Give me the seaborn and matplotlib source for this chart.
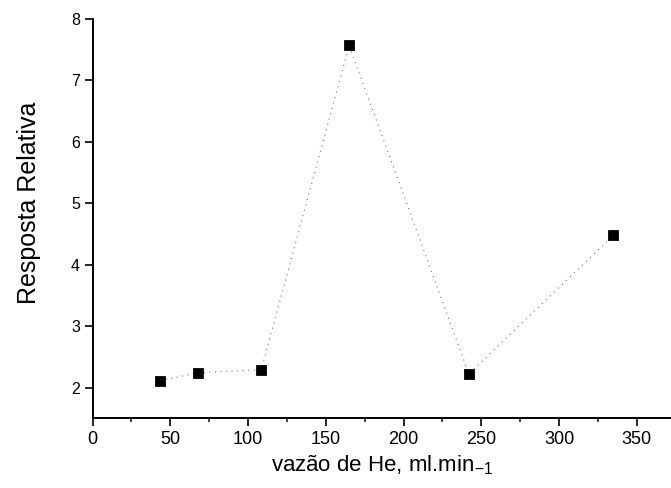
import matplotlib
matplotlib.use("Agg")
import matplotlib.pyplot as plt
import seaborn as sns
import pandas as pd
from matplotlib.ticker import MultipleLocator

# ─── Data ─────────────────────────────────────────────────────────────────────
vazao    = [43.5, 67.5, 108.5, 165, 242, 335]
resposta = [2.11, 2.24, 2.29, 7.57, 2.22, 4.48]

df = pd.DataFrame({"vazao": vazao, "resposta": resposta})

# ─── Style ────────────────────────────────────────────────────────────────────
sns.set_style("ticks")
plt.rcParams["font.family"] = ["Liberation Sans", "DejaVu Sans"]
plt.rcParams["mathtext.fontset"] = "custom"
plt.rcParams["mathtext.rm"] = "Liberation Sans"
plt.rcParams["mathtext.it"] = "Liberation Sans"
plt.rcParams["text.color"] = "black"
plt.rcParams["axes.labelcolor"] = "black"

fig = plt.figure(figsize=(6.71, 4.88), dpi=100)
ax = fig.add_axes([0.138, 0.143, 0.862, 0.818])

sns.lineplot(data=df, x="vazao", y="resposta", ax=ax, color="#777777",
             linestyle=(0, (1, 4)), linewidth=0.8, sort=False)
sns.scatterplot(data=df, x="vazao", y="resposta", ax=ax, marker="s",
                color="black", s=52, edgecolor="black", zorder=3)

ax.set_xlim(0, 372)
ax.set_ylim(1.5, 8)
ax.xaxis.set_major_locator(MultipleLocator(50))
ax.xaxis.set_minor_locator(MultipleLocator(25))
ax.yaxis.set_major_locator(MultipleLocator(1))

ax.tick_params(axis="both", which="major", direction="out", length=6,
               width=1.2, color="black", labelcolor="black", pad=3)
ax.tick_params(axis="x", which="major", labelsize=13)
ax.tick_params(axis="y", which="major", labelsize=11.5)
ax.tick_params(axis="x", which="minor", direction="out", length=3, width=1.2)

sns.despine(ax=ax)
for s in ("left", "bottom"):
    ax.spines[s].set_linewidth(1.4)
    ax.spines[s].set_color("black")

ax.set_xlabel("vazão de He, ml.min$_{-1}$", fontsize=16, labelpad=4)
ax.set_ylabel("Resposta Relativa", fontsize=18)
ax.yaxis.set_label_coords(-0.089, 0.54)

fig.savefig("out.png", dpi=100)
